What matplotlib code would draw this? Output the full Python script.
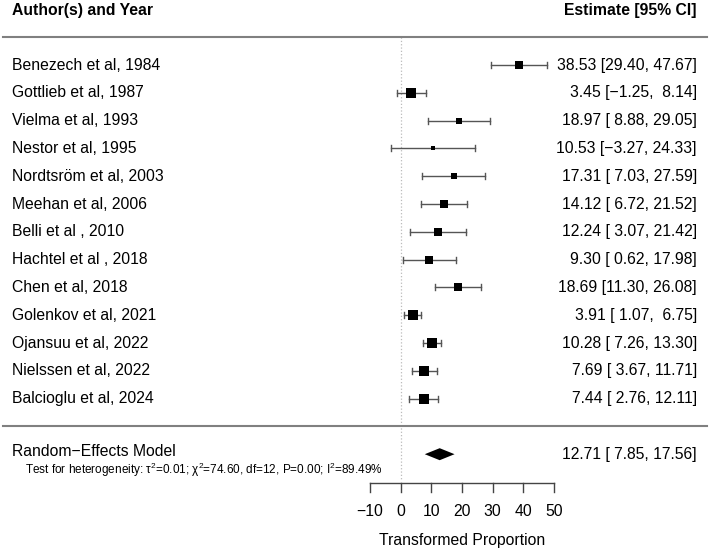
import numpy as np
import matplotlib
matplotlib.use('Agg')
import matplotlib.pyplot as plt
from matplotlib.transforms import blended_transform_factory

plt.rcParams['font.family'] = ['Liberation Sans', 'DejaVu Sans']
plt.rcParams['mathtext.fontset'] = 'custom'
plt.rcParams['mathtext.rm'] = 'Liberation Sans'
plt.rcParams['mathtext.it'] = 'Liberation Sans'
plt.rcParams['mathtext.default'] = 'regular'

studies = [
    'Benezech et al, 1984', 'Gottlieb et al, 1987', 'Vielma et al, 1993',
    'Nestor et al, 1995', 'Nordtsröm et al, 2003', 'Meehan et al, 2006',
    'Belli et al , 2010', 'Hachtel et al , 2018', 'Chen et al, 2018',
    'Golenkov et al, 2021', 'Ojansuu et al, 2022', 'Nielssen et al, 2022',
    'Balcioglu et al, 2024',
]
est = [38.53, 3.45, 18.97, 10.53, 17.31, 14.12, 12.24, 9.30, 18.69, 3.91, 10.28, 7.69, 7.44]
lower = [29.40, -1.25, 8.88, -3.27, 7.03, 6.72, 3.07, 0.62, 11.30, 1.07, 7.26, 3.67, 2.76]
upper = [47.67, 8.14, 29.05, 24.33, 27.59, 21.52, 21.42, 17.98, 26.08, 6.75, 13.30, 11.71, 12.11]
re_est, re_lo, re_hi = 12.71, 7.85, 17.56
tau2 = 0.01
het_text = (r'Test for heterogeneity: $\tau^2$=0.01; $\chi^2$=74.60, df=12, '
            r'P=0.00; I$^2$=89.49%')
xticks = [-10, 0, 10, 20, 30, 40, 50]

W, H = 710, 551
PX_PER_UNIT = 184 / 60.0
X0 = 400.7

fig = plt.figure(figsize=(W / 100, H / 100), dpi=100)
ax = fig.add_axes([0, 0, 1, 1])
ax.set_xlim(-X0 / PX_PER_UNIT, (W - X0) / PX_PER_UNIT)
ROW = 27.8
ax.set_ylim((H - 65) / ROW, -65 / ROW)
ax.axis('off')

tr = blended_transform_factory(ax.transAxes, ax.transData)


def fx(px):
    return px / W


def ci_label(e, lo, hi):
    s = '{:.2f} [{:>5}, {:>5}]'.format(e, '{:.2f}'.format(lo), '{:.2f}'.format(hi))
    return s.replace('-', '\u2212')


fs = 11.3
ci_col = '#555555'
cap = 3.0 / ROW

# marker size from random-effects weights
se = (np.array(upper) - np.array(lower)) / 3.92
w = 1.0 / (se ** 2 + tau2 * 1e4)
norm = (w - w.min()) / (w.max() - w.min())
side_px = 4 + 6.5 * norm

n = len(studies)
for i in range(n):
    ax.plot([lower[i], upper[i]], [i, i], color=ci_col, lw=1.0, zorder=2)
    for b in (lower[i], upper[i]):
        ax.plot([b, b], [i - cap, i + cap], color=ci_col, lw=1.0, zorder=2)
    ax.plot(est[i], i, marker='s', color='black', ms=side_px[i] * 0.72,
            mec='black', mew=0, zorder=3)
    ax.text(fx(12), i, studies[i], transform=tr, fontsize=fs, va='center', ha='left')
    ax.text(fx(697), i, ci_label(est[i], lower[i], upper[i]), transform=tr,
            fontsize=fs, va='center', ha='right')

# headers
ax.text(fx(12), -1.95, 'Author(s) and Year', transform=tr, fontsize=fs,
        fontweight='bold', va='center', ha='left')
ax.text(fx(697), -1.95, 'Estimate [95% CI]', transform=tr, fontsize=fs,
        fontweight='bold', va='center', ha='right')

# horizontal separators
for yy in (-1, 13):
    ax.plot([fx(3), fx(707)], [yy, yy], transform=tr, color='#808080', lw=1.5)

# reference line at 0
ax.plot([0, 0], [-1, 14.9], color='#bbbbbb', lw=0.9, ls=':', zorder=1)

# summary diamond
re_y = 14
dh = 6.0 / ROW
ax.fill([re_lo, re_est, re_hi, re_est], [re_y, re_y - dh, re_y, re_y + dh],
        color='black', lw=0, zorder=3)
ax.text(fx(12), re_y - 0.08, 'Random\u2212Effects Model', transform=tr,
        fontsize=fs, va='center', ha='left')
ax.text(fx(25), re_y + 0.56, het_text, transform=tr, fontsize=8.5,
        va='center', ha='left')
ax.text(fx(697), re_y, ci_label(re_est, re_lo, re_hi), transform=tr,
        fontsize=fs, va='center', ha='right')

# x axis
ax_y = (483 - 65) / ROW
tick_len = 9.0 / ROW
ax.plot([xticks[0], xticks[-1]], [ax_y, ax_y], color='#444444', lw=1.0)
for t in xticks:
    ax.plot([t, t], [ax_y, ax_y + tick_len], color='#444444', lw=1.0)
    ax.text(t, (512 - 65) / ROW, '{}'.format(t).replace('-', '\u2212'),
            fontsize=fs, ha='center', va='center')
ax.text(np.mean([xticks[0], xticks[-1]]), (540 - 65) / ROW, 'Transformed Proportion',
        fontsize=fs, ha='center', va='center')

fig.savefig('out.png', dpi=100)
